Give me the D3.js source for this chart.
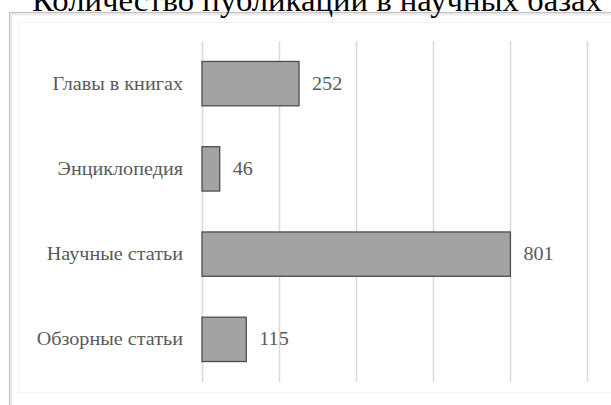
<!DOCTYPE html>
<html>
<head>
<meta charset="utf-8">
<script src="https://cdn.jsdelivr.net/npm/d3@7"></script>
<style>
  body { margin: 0; background: #fff; }
  svg { display: block; }
</style>
</head>
<body>
<svg id="chart" width="611" height="405"></svg>
<script>
let title = "Количество публикаций в научных базах";
let categories = ["Главы в книгах", "Энциклопедия", "Научные статьи", "Обзорные статьи"];
let values = [252, 46, 801, 115];
let xTicks = [0, 200, 400, 600, 800, 1000];

let width = 611, height = 405;
let plot = { left: 202, right: 587, top: 41, bottom: 382 }; // inner plot area

let svg = d3.select("#chart");

// outer chart frame (runs off the right / bottom edge of the page)
svg.append("rect")
    .attr("x", 11).attr("y", 14)
    .attr("width", 700).attr("height", 500)
    .attr("fill", "none")
    .attr("stroke", "#ececec")
    .attr("stroke-width", 3);
svg.append("rect")
    .attr("x", 9.5).attr("y", 12.5)
    .attr("width", 700).attr("height", 500)
    .attr("fill", "none")
    .attr("stroke", "#c4c4c4")
    .attr("stroke-width", 1.2);
svg.append("rect") // faint inner plot frame
    .attr("x", 18.5).attr("y", 22.5)
    .attr("width", 700).attr("height", 370)
    .attr("fill", "none")
    .attr("stroke", "#f3f3f3");

// title, cut off at the top of the page
svg.append("text")
    .attr("x", 317)
    .attr("y", 11)
    .attr("text-anchor", "middle")
    .attr("textLength", 570)
    .attr("lengthAdjust", "spacingAndGlyphs")
    .style("font-family", "'Liberation Serif', 'Times New Roman', serif")
    .style("font-size", "31px")
    .style("fill", "#000")
    .text(title);

let x = d3.scaleLinear()
    .domain([0, 1000])
    .range([plot.left, plot.right]);

let y = d3.scaleBand()
    .domain(categories)
    .range([plot.top, plot.bottom])
    .paddingInner(0.48)
    .paddingOuter(0.24);

// vertical gridlines
svg.append("g")
    .attr("transform", "translate(0," + plot.bottom + ")")
    .call(d3.axisBottom(x).tickValues(xTicks).tickSize(plot.bottom - plot.top).tickFormat(""))
    .call(g => g.select(".domain").remove())
    .call(g => g.selectAll("line")
        .attr("transform", "translate(0," + -(plot.bottom - plot.top) + ")")
        .attr("stroke", "#d9d9d9")
        .attr("stroke-width", 1.5));

// bars
svg.append("g").selectAll("rect")
    .data(values)
    .join("rect")
    .attr("x", x(0))
    .attr("y", (d, i) => y(categories[i]))
    .attr("width", d => x(d) - x(0))
    .attr("height", y.bandwidth())
    .attr("fill", "#a3a3a3")
    .attr("stroke", "#4d4d4d")
    .attr("stroke-width", 1.3);

let labelFont = "'Liberation Serif', 'Times New Roman', serif";

// category labels
svg.append("g").selectAll("text")
    .data(categories)
    .join("text")
    .attr("transform", d => "translate(183," + (y(d) + y.bandwidth() / 2 + 6) + ") scale(1.12,1)")
    .attr("text-anchor", "end")
    .style("font-family", labelFont)
    .style("font-size", "18px")
    .style("fill", "#5a5a5a")
    .text(d => d);

// value labels
svg.append("g").selectAll("text")
    .data(values)
    .join("text")
    .attr("transform", (d, i) => "translate(" + (x(d) + 13) + "," + (y(categories[i]) + y.bandwidth() / 2 + 6) + ") scale(1.12,1)")
    .style("font-family", labelFont)
    .style("font-size", "18px")
    .style("fill", "#5a5a5a")
    .text(d => d);
</script>
</body>
</html>
